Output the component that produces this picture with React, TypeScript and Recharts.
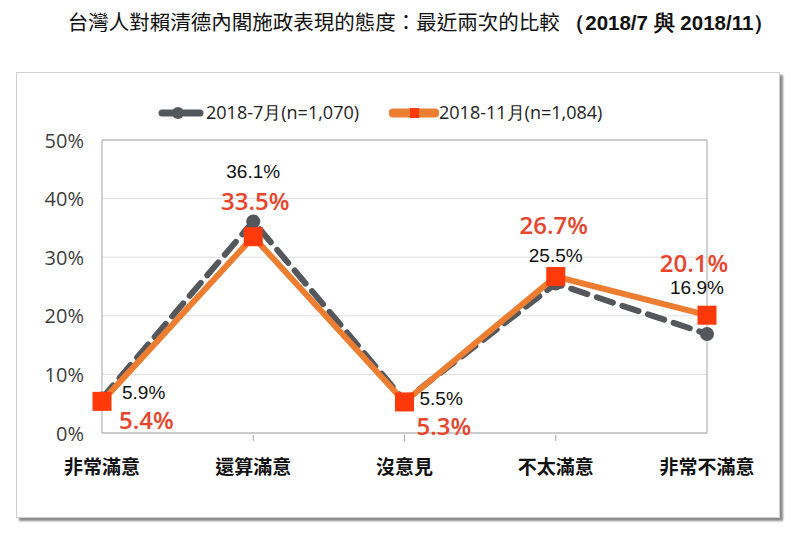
import React from "react";
import { CartesianGrid, LabelList, Line, LineChart, ReferenceLine, XAxis, YAxis } from "recharts";

const categories = ["非常滿意", "還算滿意", "沒意見", "不太滿意", "非常不滿意"];
const july = [5.9, 36.1, 5.5, 25.5, 16.9];
const nov = [5.4, 33.5, 5.3, 26.7, 20.1];
const yTicks = [0, 10, 20, 30, 40, 50];
const julyName = "2018-7月(n=1,070)";
const novName = "2018-11月(n=1,084)";

const data = categories.map((c, i) => ({ name: c, july: july[i], nov: nov[i] }));

const GRAY = "#54585c";
const ORANGE = "#ED7D31";
const SQUARE = "#FF3A0A";
const RED_TEXT = "#E8452C";
const LATIN = "'Liberation Sans', Arial, sans-serif";
const CJK = "'Noto Sans CJK TC', 'Noto Sans', sans-serif";

// label offsets per point: [dx, dy, anchor]
const julyPos: [number, number, string][] = [
  [20, -6, "start"],
  [0, -50, "middle"],
  [15, -2, "start"],
  [0, -28, "middle"],
  [-10, -46, "middle"],
];
const novPos: [number, number, string][] = [
  [17, 18, "start"],
  [2, -36, "middle"],
  [12, 24, "start"],
  [-2, -52, "middle"],
  [-13, -53, "middle"],
];

const makeLabel = (pos: [number, number, string][], color: string, size: number, family: string, weight: number) => (props: any) => {
  const { x, y, value, index } = props;
  const [dx, dy, anchor] = pos[index];
  return (
    <text
      x={x + dx}
      y={y + dy}
      textAnchor={anchor}
      dominantBaseline="central"
      fill={color}
      fontSize={size}
      fontFamily={family}
      fontWeight={weight}
    >
      {value.toFixed(1)}%
    </text>
  );
};

const Square = (props: any) => {
  const { cx, cy } = props;
  return <rect x={cx - 9.5} y={cy - 9.5} width={19} height={19} fill={SQUARE} />;
};

const Dot = (props: any) => {
  const { cx, cy } = props;
  return <circle cx={cx} cy={cy} r={7} fill={GRAY} />;
};

const XTick = (props: any) => {
  const { x, y, payload, index } = props;
  return (
    <g>
      {index > 0 && index < categories.length - 1 && (
        <line x1={x} x2={x} y1={y} y2={y - 6} stroke="#a6a6a6" />
      )}
      <text
        x={x}
        y={y + 24}
        textAnchor="middle"
        dominantBaseline="central"
        fontSize={19}
        fontWeight="bold"
        fill="#111"
        fontFamily={CJK}
      >
        {payload.value}
      </text>
    </g>
  );
};

const YTick = (props: any) => {
  const { y, payload } = props;
  return (
    <text x={84} y={y} textAnchor="end" dominantBaseline="central" fontSize={20} fill="#404040" fontFamily="'Open Sans', sans-serif">
      {payload.value}%
    </text>
  );
};

const LegendBox = () => (
  <div
    style={{
      position: "absolute",
      left: 158,
      top: 100,
      display: "flex",
      alignItems: "center",
      fontFamily: "'Open Sans', sans-serif",
      fontSize: 18,
      color: "#222",
      whiteSpace: "nowrap",
    }}
  >
    <svg width={48} height={14}>
      <line x1={4} x2={44} y1={7} y2={7} stroke={GRAY} strokeWidth={7} strokeDasharray="16 6" strokeLinecap="round" />
      <circle cx={20} cy={7} r={6} fill={GRAY} />
    </svg>
    <span style={{ marginRight: 30 }}>{julyName}</span>
    <svg width={50} height={14}>
      <line x1={4} x2={46} y1={7} y2={7} stroke={ORANGE} strokeWidth={9} strokeLinecap="round" />
      <rect x={21} y={2} width={9} height={10} fill={SQUARE} />
    </svg>
    <span>{novName}</span>
  </div>
);

export default function App() {
  return (
    <div style={{ position: "absolute", left: 0, top: 0, width: 800, height: 533, background: "#fff" }}>
      <div
        style={{
          position: "absolute",
          left: 16,
          top: 72,
          width: 762,
          height: 444,
          border: "1px solid #cfcfcf",
          boxShadow: "3px 3px 2px #8a8a8a",
        }}
      />
      <div
        style={{
          position: "absolute",
          left: 0,
          top: 6,
          width: 842,
          textAlign: "center",
          fontFamily: CJK,
          fontSize: 20.5,
          color: "#111",
          whiteSpace: "nowrap",
        }}
      >
        台灣人對賴清德內閣施政表現的態度：最近兩次的比較 <span style={{ fontWeight: "bold", fontFamily: LATIN }}>（2018/7 與 2018/11）</span>
      </div>
      <LegendBox />
      <div style={{ position: "absolute", left: 0, top: 0 }}>
        <LineChart width={800} height={533} data={data} margin={{ top: 140, right: 93, bottom: 70, left: 42 }}>
          <CartesianGrid vertical={false} stroke="#dedede" />
          <XAxis dataKey="name" axisLine={{ stroke: "#a6a6a6" }} tickLine={false} tick={<XTick />} height={30} interval={0} />
          <YAxis domain={[0, 50]} ticks={yTicks} axisLine={{ stroke: "#a6a6a6" }} tickLine={false} tick={<YTick />} width={60} />
          <ReferenceLine y={50} stroke="#a6a6a6" />
          <ReferenceLine x={categories[categories.length - 1]} stroke="#a6a6a6" />
          <Line
            dataKey="july"
            name={julyName}
            stroke={GRAY}
            strokeWidth={6}
            strokeDasharray="17 10"
            strokeLinecap="round"
            dot={<Dot />}
            activeDot={false}
            isAnimationActive={false}
          >
            <LabelList dataKey="july" content={makeLabel(julyPos, "#111", 19, LATIN, 400)} />
          </Line>
          <Line
            dataKey="nov"
            name={novName}
            stroke={ORANGE}
            strokeWidth={6}
            dot={<Square />}
            activeDot={false}
            isAnimationActive={false}
          >
            <LabelList dataKey="nov" content={makeLabel(novPos, RED_TEXT, 24, "'Open Sans', sans-serif", 600)} />
          </Line>
        </LineChart>
      </div>
    </div>
  );
}
